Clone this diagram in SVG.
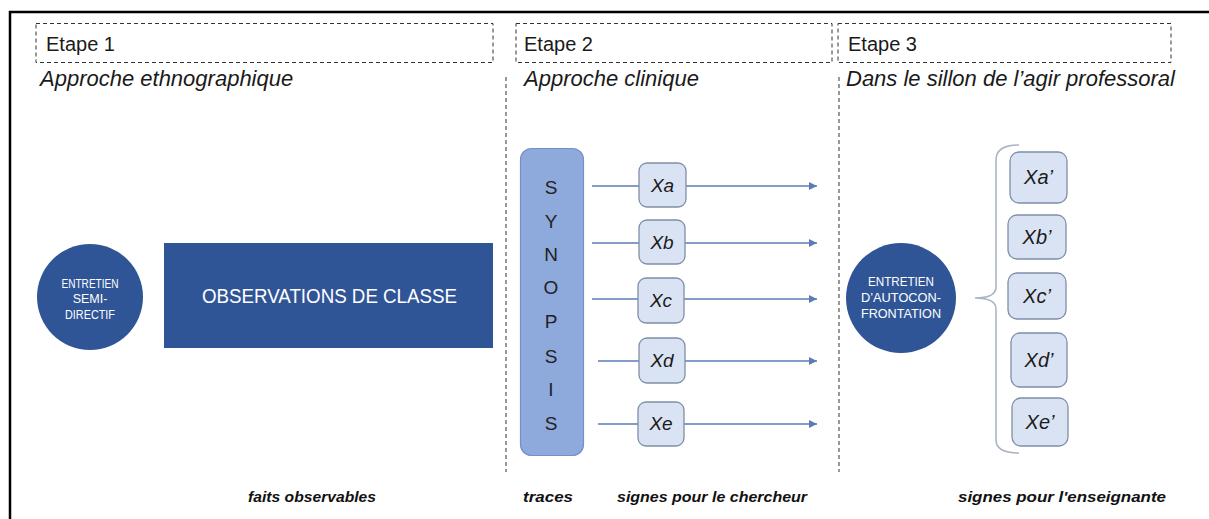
<svg xmlns="http://www.w3.org/2000/svg" width="1209" height="519" viewBox="0 0 1209 519">
<defs>
<style>
.frame{stroke:#000;stroke-width:2.5;fill:none}
.dbox{fill:none;stroke:#333;stroke-width:1;stroke-dasharray:4 3}
.dline{stroke:#333;stroke-width:1;stroke-dasharray:4 3}
.h{font-family:"Liberation Sans",Arial,sans-serif;font-size:20px;fill:#1a1a1a}
.sub{font-family:"Liberation Sans",Arial,sans-serif;font-size:22px;font-style:italic;fill:#1a1a1a}
.dark{fill:#2F5597}
.wt{font-family:"Liberation Sans",Arial,sans-serif;fill:#fff;text-anchor:middle}
.syn{fill:#8EA9DB;stroke:#7391C9;stroke-width:1.2}
.sl{font-family:"Liberation Sans",Arial,sans-serif;font-size:19px;fill:#222;text-anchor:middle}
.xb{fill:#DAE3F3;stroke:#7F8FA8;stroke-width:1.3}
.xt{font-family:"Liberation Sans",Arial,sans-serif;font-style:italic;fill:#1a1a1a;text-anchor:middle}
.conn{stroke:#5B7DB6;stroke-width:1.3;fill:none}
.brace{stroke:#A9B4C4;stroke-width:1.6;fill:none}
.lab{font-family:"Liberation Sans Narrow","Liberation Sans",Arial,sans-serif;font-size:15px;font-weight:bold;font-style:italic;fill:#111}
</style>
<marker id="arr" viewBox="0 0 10 10" refX="10" refY="5" markerWidth="8" markerHeight="8" markerUnits="userSpaceOnUse" orient="auto">
<path d="M0,0 L10,5 L0,10 z" fill="#5B7DB6"/>
</marker>
</defs>
<rect width="1209" height="519" fill="#fff"/>
<path class="frame" d="M10,519 L10,12 L1209,12"/>

<g id="etape1">
<rect class="dbox" x="36" y="23.5" width="457" height="39"/>
<text class="h" x="46" y="51">Etape 1</text>
<text class="sub" x="40" y="86">Approche ethnographique</text>
</g>
<g id="etape2">
<rect class="dbox" x="516" y="23.5" width="316" height="39"/>
<text class="h" x="524" y="51">Etape 2</text>
<text class="sub" x="524" y="86">Approche clinique</text>
</g>
<g id="etape3">
<rect class="dbox" x="838" y="23.5" width="333" height="39"/>
<text class="h" x="848" y="51">Etape 3</text>
<text class="sub" x="846" y="86">Dans le sillon de l’agir professoral</text>
</g>
<g id="separators">
<line class="dline" x1="506" y1="77" x2="506" y2="472"/>
<line class="dline" x1="839" y1="77" x2="839" y2="472"/>
</g>

<g id="entretien-semi">
<circle class="dark" cx="90" cy="297" r="53"/>
<text class="wt" font-size="12.5" x="90" y="288" textLength="57" lengthAdjust="spacingAndGlyphs">ENTRETIEN</text>
<text class="wt" font-size="12.5" x="90" y="303">SEMI-</text>
<text class="wt" font-size="12.5" x="90" y="319" textLength="50" lengthAdjust="spacingAndGlyphs">DIRECTIF</text>
</g>
<g id="observations">
<rect class="dark" x="164" y="243" width="329" height="105"/>
<text class="wt" font-size="19.5" x="329.5" y="303" textLength="255" lengthAdjust="spacingAndGlyphs">OBSERVATIONS DE CLASSE</text>
</g>

<g id="synopsis">
<rect class="syn" x="520.5" y="148.5" width="63" height="307" rx="11"/>
<text class="sl" x="551" y="194">S</text>
<text class="sl" x="551" y="228">Y</text>
<text class="sl" x="551" y="261">N</text>
<text class="sl" x="551" y="294">O</text>
<text class="sl" x="551" y="328">P</text>
<text class="sl" x="551" y="363">S</text>
<text class="sl" x="551" y="396">I</text>
<text class="sl" x="551" y="430">S</text>
</g>

<g id="connectors">
<line class="conn" x1="592" y1="186" x2="639" y2="186"/>
<line class="conn" x1="686" y1="186" x2="817" y2="186" marker-end="url(#arr)"/>
<line class="conn" x1="592" y1="243" x2="639" y2="243"/>
<line class="conn" x1="685" y1="243" x2="817" y2="243" marker-end="url(#arr)"/>
<line class="conn" x1="592" y1="299" x2="638" y2="299"/>
<line class="conn" x1="684" y1="299" x2="817" y2="299" marker-end="url(#arr)"/>
<line class="conn" x1="598" y1="361" x2="639" y2="361"/>
<line class="conn" x1="685" y1="361" x2="817" y2="361" marker-end="url(#arr)"/>
<line class="conn" x1="598" y1="424" x2="638" y2="424"/>
<line class="conn" x1="684" y1="424" x2="817" y2="424" marker-end="url(#arr)"/>
<path class="brace" d="M1019,145 Q996,145 996,160 L996,287 Q996,298 975,298 Q996,298 996,309 L996,440 Q996,453 1019,453"/>
</g>

<g id="xa"><rect class="xb" x="639" y="163" width="47" height="44" rx="8"/><text class="xt" font-size="19" x="662.5" y="192">Xa</text></g>
<g id="xb"><rect class="xb" x="639" y="220" width="46" height="44" rx="8"/><text class="xt" font-size="19" x="662" y="249">Xb</text></g>
<g id="xc"><rect class="xb" x="638" y="278" width="46" height="45" rx="8"/><text class="xt" font-size="19" x="661" y="307">Xc</text></g>
<g id="xd"><rect class="xb" x="639" y="338" width="46" height="45" rx="8"/><text class="xt" font-size="19" x="662" y="367">Xd</text></g>
<g id="xe"><rect class="xb" x="638" y="402" width="46" height="44" rx="8"/><text class="xt" font-size="19" x="661" y="430">Xe</text></g>

<g id="entretien-autoconfrontation">
<circle class="dark" cx="901" cy="298" r="55"/>
<text class="wt" font-size="13" x="901" y="286" textLength="66" lengthAdjust="spacingAndGlyphs">ENTRETIEN</text>
<text class="wt" font-size="13" x="901" y="302" textLength="80" lengthAdjust="spacingAndGlyphs">D’AUTOCON-</text>
<text class="wt" font-size="13" x="901" y="318" textLength="80" lengthAdjust="spacingAndGlyphs">FRONTATION</text>
</g>

<g id="xa2"><rect class="xb" x="1010" y="152" width="57" height="51" rx="9"/><text class="xt" font-size="20" x="1038.5" y="184">Xa’</text></g>
<g id="xb2"><rect class="xb" x="1008" y="215" width="58" height="44" rx="9"/><text class="xt" font-size="20" x="1037" y="244">Xb’</text></g>
<g id="xc2"><rect class="xb" x="1008" y="273" width="58" height="46" rx="9"/><text class="xt" font-size="20" x="1037" y="303">Xc’</text></g>
<g id="xd2"><rect class="xb" x="1011" y="333" width="56" height="54" rx="9"/><text class="xt" font-size="20" x="1039" y="367">Xd’</text></g>
<g id="xe2"><rect class="xb" x="1012" y="398" width="56" height="48" rx="9"/><text class="xt" font-size="20" x="1040" y="429">Xe’</text></g>

<g id="labels">
<text class="lab" x="248" y="502" textLength="128" lengthAdjust="spacingAndGlyphs">faits observables</text>
<text class="lab" x="523" y="502" textLength="50" lengthAdjust="spacingAndGlyphs">traces</text>
<text class="lab" x="617" y="502" textLength="190" lengthAdjust="spacingAndGlyphs">signes pour le chercheur</text>
<text class="lab" x="958" y="502" textLength="208" lengthAdjust="spacingAndGlyphs">signes pour l'enseignante</text>
</g>
</svg>
